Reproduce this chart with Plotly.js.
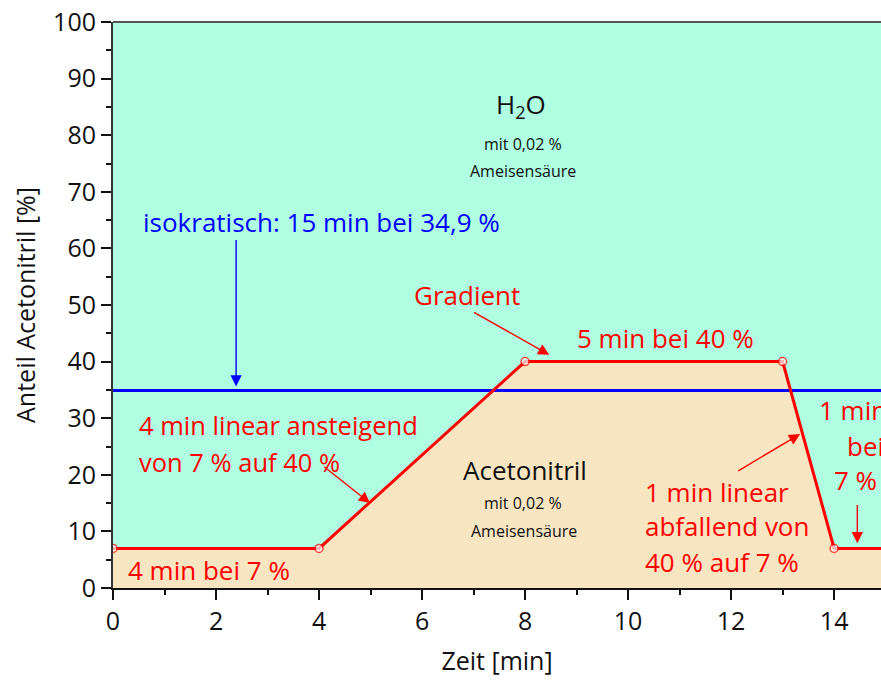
<!DOCTYPE html>
<html><head><meta charset="utf-8">
<script src="https://cdn.plot.ly/plotly-3.0.1.min.js"></script>
<style>html,body{margin:0;padding:0;background:#fff}#c{width:881px;height:684px}</style>
</head><body><div id="c"></div>
<script>
// Gradient program (time in min, acetonitrile share in %)
const gradientTime = [0, 4, 8, 13, 14, 15];
const gradientAcn  = [7, 7, 40, 40, 7, 7];
const markerShown  = [true, true, true, true, true, false];
// Isocratic alternative
const isoTime = [0, 15];
const isoAcn  = [34.9, 34.9];

const xTicks = [0, 2, 4, 6, 8, 10, 12, 14];
const yTicks = [0, 10, 20, 30, 40, 50, 60, 70, 80, 90, 100];

const FONT = 'Open Sans, Noto Sans, sans-serif';
const RED = '#ff0000', BLUE = '#0000ff';
const MINT = '#b0ffe2', BEIGE = '#f8e6c2';

const traces = [
  {x: gradientTime, y: gradientAcn, type: 'scatter', mode: 'none', fill: 'tozeroy',
   fillcolor: BEIGE, hoverinfo: 'skip', showlegend: false},
  {x: isoTime, y: isoAcn, type: 'scatter', mode: 'lines',
   line: {color: BLUE, width: 3}, showlegend: false},
  {x: gradientTime, y: gradientAcn, type: 'scatter', mode: 'lines+markers',
   line: {color: RED, width: 3},
   marker: {size: markerShown.map(s => s ? 8 : 0), color: '#ffffff',
            line: {color: RED, width: 1.5}},
   showlegend: false, cliponaxis: true}
];

function txt(text, x, y, size, color, anchor) {
  return {text: text, x: x, y: y, xref: 'x', yref: 'y', showarrow: false,
          xanchor: anchor || 'center', yanchor: 'middle',
          font: {family: FONT, size: size, color: color}};
}
function arrow(x, y, ax, ay, color) {
  return {text: ' ', x: x, y: y, ax: ax, ay: ay, xref: 'x', yref: 'y', axref: 'x', ayref: 'y',
          showarrow: true, arrowhead: 2, arrowsize: 1.6, arrowwidth: 1.4, arrowcolor: color,
          standoff: 0, startstandoff: 0, font: {size: 2}};
}

const annotations = [
  txt('H<sub>2</sub>O', 7.92, 85.3, 26, '#111'),
  txt('mit 0,02 %', 7.95, 78.4, 16, '#111'),
  txt('Ameisensäure', 7.95, 73.6, 16, '#111'),
  txt('Acetonitril', 8.0, 20.8, 26, '#111'),
  txt('mit 0,02 %', 7.95, 15.0, 16, '#111'),
  txt('Ameisensäure', 7.98, 10.0, 16, '#111'),
  txt('isokratisch: 15 min bei 34,9 %', 4.04, 64.7, 26, BLUE),
  arrow(2.39, 35.6, 2.39, 62.0, BLUE),
  txt('Gradient', 6.87, 51.8, 26, RED),
  arrow(8.47, 41.2, 6.97, 48.9, RED),
  txt('5 min bei 40 %', 10.72, 44.2, 26, RED),
  txt('4 min linear ansteigend', 0.47, 28.8, 25.5, RED, 'left'),
  txt('von 7 % auf 40 %', 0.47, 22.3, 25.5, RED, 'left'),
  arrow(4.99, 15.0, 4.06, 21.7, RED),
  txt('4 min bei 7 %', 0.25, 3.2, 26, RED, 'left'),
  txt('1 min linear', 10.29, 17.0, 26, RED, 'left'),
  txt('abfallend von', 10.29, 11.0, 26, RED, 'left'),
  txt('40 % auf 7 %', 10.29, 4.6, 26, RED, 'left'),
  arrow(13.34, 27.2, 12.10, 20.5, RED),
  txt('1 min', 13.66, 31.4, 26, RED, 'left'),
  txt('bei', 14.22, 25.1, 26, RED, 'left'),
  txt('7 %', 13.96, 19.1, 26, RED, 'left'),
  arrow(14.45, 7.9, 14.45, 15.2, RED)
];

const layout = {
  width: 881, height: 684,
  margin: {l: 113, r: 0, t: 22, b: 96},
  paper_bgcolor: '#ffffff', plot_bgcolor: MINT,
  font: {family: FONT, size: 25, color: '#111'},
  xaxis: {range: [0, 14.91], tickvals: xTicks, ticktext: xTicks.map(String),
          ticks: 'outside', ticklen: 10, tickwidth: 2, tickcolor: '#111',
          showline: true, linecolor: '#111', linewidth: 2, showgrid: false, zeroline: false,
          minor: {dtick: 1, tick0: 0, ticks: 'outside', ticklen: 5, tickwidth: 2, tickcolor: '#111', showgrid: false},
          tickfont: {family: FONT, size: 25, color: '#111'},
          title: {text: 'Zeit [min]', font: {family: FONT, size: 25, color: '#111'}, standoff: 16}},
  yaxis: {range: [0, 100], tickvals: yTicks, ticktext: yTicks.map(String),
          ticks: 'outside', ticklen: 10, tickwidth: 2, tickcolor: '#111',
          showline: true, linecolor: '#333', linewidth: 2, showgrid: false, zeroline: false,
          minor: {dtick: 5, tick0: 0, ticks: 'outside', ticklen: 5, tickwidth: 2, tickcolor: '#111', showgrid: false},
          tickfont: {family: FONT, size: 25, color: '#111'},
          title: {text: 'Anteil Acetonitril [%]', font: {family: FONT, size: 25, color: '#111'}, standoff: 10}},
  shapes: [{type: 'line', xref: 'paper', yref: 'paper', x0: 0, x1: 1, y0: 1, y1: 1,
            line: {color: '#555', width: 2}}],
  annotations: annotations,
  showlegend: false
};

Plotly.newPlot('c', traces, layout, {displayModeBar: false, staticPlot: true});
</script></body></html>
